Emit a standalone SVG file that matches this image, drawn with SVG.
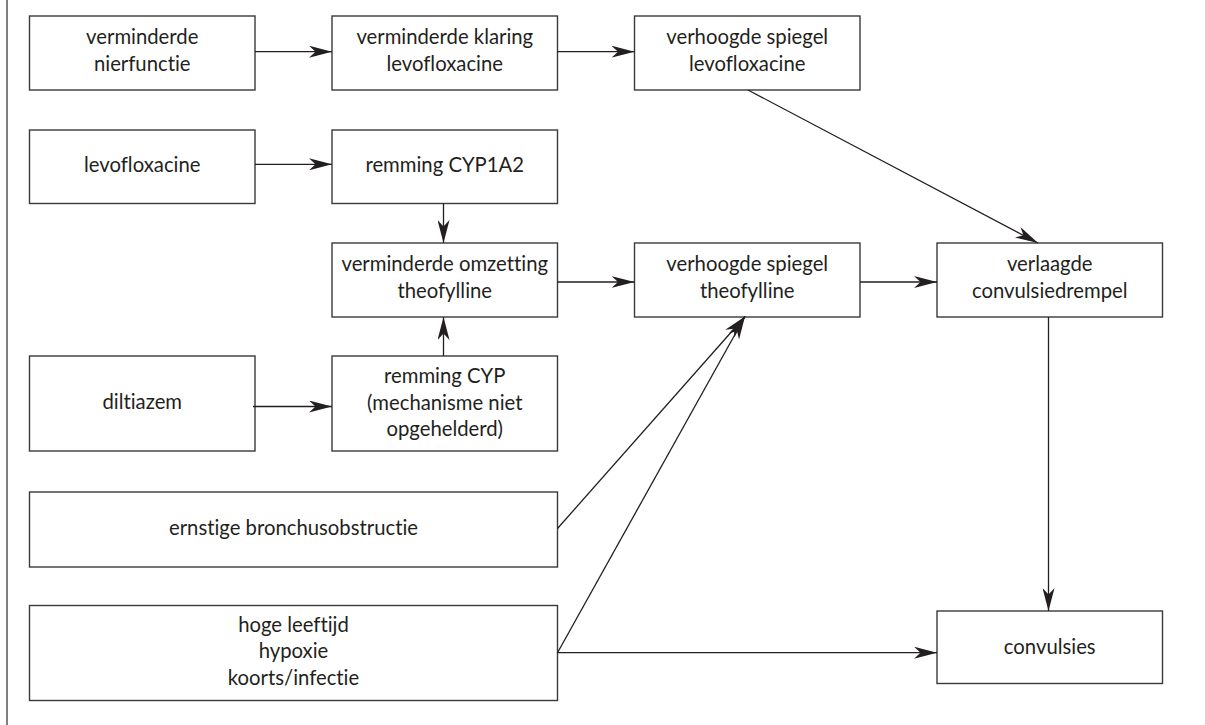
<svg xmlns="http://www.w3.org/2000/svg" width="1205" height="725" viewBox="0 0 1205 725">
  <style>
    .box { fill: #ffffff; stroke: #3a3a3a; stroke-width: 1.4; }
    .lbl { font-family: Lato, "Open Sans", "Liberation Sans", sans-serif; font-size: 20.3px; fill: #231f20; text-anchor: middle; font-variant-ligatures: none; font-feature-settings: "liga" 0, "dlig" 0, "clig" 0; }
    .edge { fill: none; stroke: #231f20; stroke-width: 1.3; marker-end: url(#arr); }
  </style>
  <defs>
    <marker id="arr" markerUnits="userSpaceOnUse" markerWidth="23" markerHeight="12" refX="23" refY="6" orient="auto" viewBox="0 0 23 12">
      <path d="M23,6 L0,0 L6.5,6 L0,12 Z" fill="#231f20"/>
    </marker>
  </defs>
  <rect width="1205" height="725" fill="#ffffff"/>
  <line x1="7" y1="0" x2="7" y2="725" stroke="#555555" stroke-width="1.5"/>

  <g id="n1"><rect class="box" x="29.5" y="16" width="225.5" height="74"/>
    <text class="lbl" x="142.25" y="44">verminderde</text><text class="lbl" x="142.25" y="70.5">nierfunctie</text></g>
  <g id="n2"><rect class="box" x="332" y="16" width="225.5" height="74"/>
    <text class="lbl" x="444.75" y="44">verminderde klaring</text><text class="lbl" x="444.75" y="70.5">levofloxacine</text></g>
  <g id="n3"><rect class="box" x="634.5" y="16" width="225.5" height="74"/>
    <text class="lbl" x="747.25" y="44">verhoogde spiegel</text><text class="lbl" x="747.25" y="70.5">levofloxacine</text></g>
  <g id="n4"><rect class="box" x="29.5" y="130" width="225.5" height="73.5"/>
    <text class="lbl" x="142.25" y="171.5">levofloxacine</text></g>
  <g id="n5"><rect class="box" x="332" y="130" width="225.5" height="73.5"/>
    <text class="lbl" x="444.75" y="171.5">remming CYP1A2</text></g>
  <g id="n6"><rect class="box" x="332" y="243" width="225.5" height="74"/>
    <text class="lbl" x="444.75" y="271">verminderde omzetting</text><text class="lbl" x="444.75" y="297.5">theofylline</text></g>
  <g id="n7"><rect class="box" x="634.5" y="243" width="225.5" height="74"/>
    <text class="lbl" x="747.25" y="271">verhoogde spiegel</text><text class="lbl" x="747.25" y="297.5">theofylline</text></g>
  <g id="n8"><rect class="box" x="937" y="243" width="225.5" height="74"/>
    <text class="lbl" x="1049.75" y="271">verlaagde</text><text class="lbl" x="1049.75" y="297.5">convulsiedrempel</text></g>
  <g id="n9"><rect class="box" x="29.5" y="356" width="225.5" height="95"/>
    <text class="lbl" x="142.25" y="408.5">diltiazem</text></g>
  <g id="n10"><rect class="box" x="332" y="356" width="225.5" height="95"/>
    <text class="lbl" x="444.75" y="383">remming CYP</text><text class="lbl" x="444.75" y="409.5">(mechanisme niet</text><text class="lbl" x="444.75" y="436">opgehelderd)</text></g>
  <g id="n11"><rect class="box" x="29.5" y="492" width="528" height="75"/>
    <text class="lbl" x="293.5" y="535">ernstige bronchusobstructie</text></g>
  <g id="n12"><rect class="box" x="29.5" y="605.5" width="528" height="95"/>
    <text class="lbl" x="293.5" y="631.5">hoge leeftijd</text><text class="lbl" x="293.5" y="658">hypoxie</text><text class="lbl" x="293.5" y="684.5">koorts/infectie</text></g>
  <g id="n13"><rect class="box" x="937" y="611" width="225.5" height="72.5"/>
    <text class="lbl" x="1049.75" y="653.5">convulsies</text></g>

  <g id="connectors">
    <line class="edge" x1="255" y1="51.7" x2="332" y2="51.7"/>
    <line class="edge" x1="557.5" y1="51.7" x2="634.5" y2="51.7"/>
    <line class="edge" x1="748" y1="90" x2="1038" y2="243"/>
    <line class="edge" x1="255" y1="164.3" x2="332" y2="164.3"/>
    <line class="edge" x1="443.5" y1="203.5" x2="443.5" y2="243"/>
    <line class="edge" x1="443.5" y1="356" x2="443.5" y2="317"/>
    <line class="edge" x1="253" y1="406.5" x2="332" y2="406.5"/>
    <line class="edge" x1="557.5" y1="282" x2="634.5" y2="282"/>
    <line class="edge" x1="860" y1="282" x2="937" y2="282"/>
    <line class="edge" x1="1048.5" y1="317" x2="1048.5" y2="611"/>
    <line class="edge" x1="557.5" y1="528.5" x2="745" y2="316.5"/>
    <line class="edge" x1="557.5" y1="652.7" x2="745" y2="316.5"/>
    <line class="edge" x1="557.5" y1="652.7" x2="937" y2="652.7"/>
  </g>
</svg>
